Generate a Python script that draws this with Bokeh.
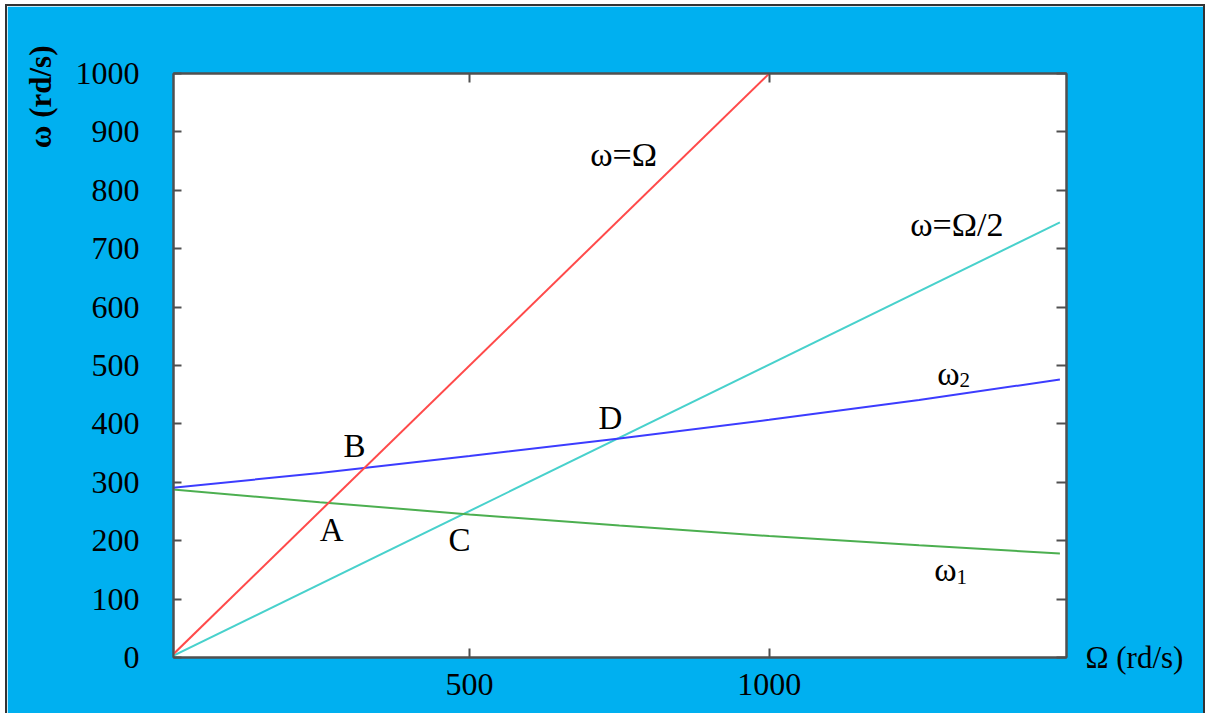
import numpy as np
from bokeh.plotting import figure
from bokeh.models import Range1d, FixedTicker, LinearAxis, Title, ColumnDataSource
from bokeh.core.properties import value
from bokeh.embed import file_html
from bokeh.resources import INLINE

# ---- data ----
omega_x = [0, 250, 500, 750, 1000, 1250, 1485]
omega1 = [288, 266, 245, 226, 208, 192, 178]          # green curve ω1
omega2 = [290, 316, 345, 375, 407, 441, 476]          # blue curve ω2
sync_x = [0, 1000]                                      # ω = Ω
sync_y = [0, 1000]
half_x = [0, 1485]                                      # ω = Ω/2
half_y = [0, 745]

x_ticks = [500, 1000]
y_ticks = [0, 100, 200, 300, 400, 500, 600, 700, 800, 900, 1000]

curve_label_text = ["ω=Ω", "ω=Ω/2", "ω", "ω"]
curve_label_x = [757, 1313, 1299, 1294]
curve_label_y = [861, 742, 487, 150]
sub_text = ["2", "1"]

point_names = ["A", "B", "C", "D"]

x_title = "Ω (rd/s)"
y_title = "ω (rd/s)"

FONT = "Liberation Serif"
BLUE_BG = "#00B0F0"
FRAME = "#505050"

# ---- intersections (computed from the curves) ----
grid = np.linspace(0, 1485, 30001)
red = np.interp(grid, sync_x, sync_y, right=np.nan)
cyan = np.interp(grid, half_x, half_y)
g = np.interp(grid, omega_x, omega1)
b = np.interp(grid, omega_x, omega2)


def cross(f1, f2):
    d = f1 - f2
    ok = ~np.isnan(d)
    idx = np.where(ok[:-1] & ok[1:] & (np.sign(d[:-1]) != np.sign(d[1:])))[0][0]
    return grid[idx], f1[idx]


pts = [cross(red, g), cross(red, b), cross(cyan, g), cross(cyan, b)]
pt_dx = [3, -10, -4, -7]
pt_dy = [27, -22, 26, -21]

p = figure(width=1196, height=707, output_backend="svg", toolbar_location=None,
           x_range=Range1d(6, 1496), y_range=Range1d(0, 1000),
           min_border_left=165, min_border_top=67, min_border_right=137, min_border_bottom=56)
p.styles = {"margin": "6px 0px 0px 7px", "outline": "2px solid #333333"}
p.background_fill_color = "white"
p.border_fill_color = BLUE_BG
p.outline_line_color = FRAME
p.outline_line_width = 2
p.grid.visible = False


def style_axis(ax, ticks, show_labels, tick_len, standoff=8):
    ax.ticker = FixedTicker(ticks=ticks)
    ax.major_tick_in = tick_len
    ax.major_tick_out = 0
    ax.minor_tick_line_color = None
    ax.major_tick_line_color = FRAME
    ax.major_tick_line_width = 2
    ax.axis_line_color = FRAME
    ax.axis_line_width = 2
    ax.major_label_text_font = FONT
    ax.major_label_text_font_size = "32px"
    ax.major_label_text_color = "black"
    ax.major_label_standoff = standoff
    if not show_labels:
        ax.major_label_text_font_size = "0px"
        ax.major_label_text_color = None


style_axis(p.xaxis[0], x_ticks, True, 9, 16)
style_axis(p.yaxis[0], y_ticks, True, 8, 34)

# right axis: inward ticks, the only label is the Ω axis title next to the corner
right_ax = LinearAxis()
style_axis(right_ax, y_ticks, True, 10, 19)
right_ax.major_label_text_font_size = "31px"
right_ax.major_label_overrides = {t: (x_title if t == y_ticks[0] else "") for t in y_ticks}
p.add_layout(right_ax, "right")

top_ax = LinearAxis()
style_axis(top_ax, x_ticks, False, 9)
p.add_layout(top_ax, "above")

# lines
p.line(half_x, half_y, line_color="#48D1CC", line_width=2)
p.line(omega_x, omega1, line_color="#4CAF50", line_width=2)
p.line(omega_x, omega2, line_color="#3C3CFF", line_width=2)
p.line(sync_x, sync_y, line_color="#FF4A4A", line_width=2)

# curve labels
p.text(x=curve_label_x, y=curve_label_y, text=curve_label_text,
       text_font=value(FONT), text_font_size="34px", text_color="black",
       text_align="center", text_baseline="middle")
p.text(x=curve_label_x[2:], y=curve_label_y[2:], text=sub_text,
       text_font=value(FONT), text_font_size="21px", text_color="black",
       text_align="left", text_baseline="middle", x_offset=11, y_offset=7)

# point labels
src = ColumnDataSource(dict(x=[q[0] for q in pts], y=[q[1] for q in pts], t=point_names,
                            dx=pt_dx, dy=pt_dy))
p.text(x="x", y="y", text="t", x_offset="dx", y_offset="dy", source=src,
       text_font=value(FONT), text_font_size="33px", text_color="black",
       text_align="center", text_baseline="middle")

# vertical axis title, near the top of the axis
ytitle = Title(text=y_title, text_font=FONT, text_font_size="31px",
               text_font_style="bold", text_color="black", align="right",
               vertical_align="middle", standoff=28, offset=-28)
p.add_layout(ytitle, "left")

open("out.html", "w").write(file_html(p, INLINE))
